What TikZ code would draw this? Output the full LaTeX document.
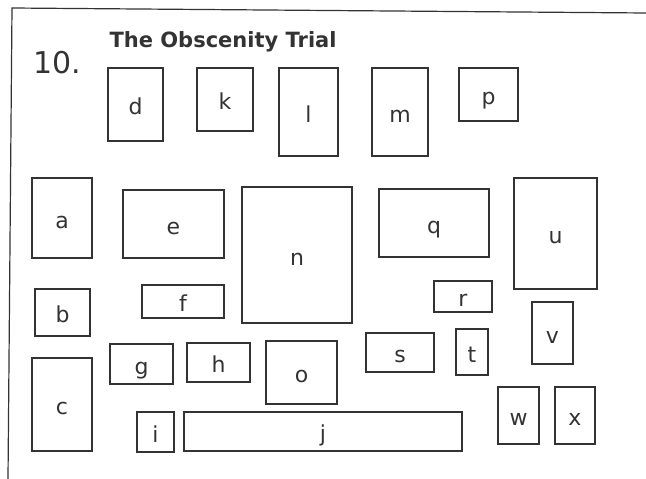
\documentclass[tikz,border=0pt]{standalone}
\usepackage{fontspec}
\setmainfont{DejaVu Sans}
\definecolor{inkgray}{HTML}{333333}

\begin{document}
\begin{tikzpicture}[x=1pt,y=-1pt,line width=1.1pt,
  lot/.style={draw=inkgray,inner sep=0pt,outer sep=0pt,font=\fontsize{22}{22}\selectfont,
    text=inkgray,text height=20pt,text depth=0pt}]
\useasboundingbox (0,0) rectangle (646,479);
% ---------- frame ----------
\draw[inkgray,line width=1.2pt] (646,13) -- (12,8) -- (8,479);
% ---------- heading ----------
\node[anchor=base west,inner sep=0pt,text=inkgray,font=\fontsize{30}{30}\selectfont] (num) at (33,73) {10.};
\node[anchor=base west,inner sep=0pt,text=inkgray,font=\fontsize{21}{21}\bfseries] (title) at (109,47) {The Obscenity Trial};
% ---------- lots: name / left / top / right / bottom ----------
\foreach \nm/\xa/\ya/\xb/\yb in {
  d/108/68/163/141, k/197/68/253/131, l/279/68/338/156, m/372/68/428/156, p/459/68/518/121,
  a/32/178/92/258, e/123/190/224/258, n/242/187/352/323, q/379/189/489/257, u/514/178/597/289,
  b/35/289/90/336, f/142/285/224/318, r/434/281/492/312, v/532/302/573/364,
  g/110/344/173/384, h/187/343/250/382, o/266/341/337/404, s/366/333/434/372, t/456/329/488/375,
  c/32/358/92/451, i/137/412/174/452, j/184/412/462/451, w/498/387/539/444, x/555/387/595/444}{
  \pgfmathsetmacro\bw{\xb-\xa}
  \pgfmathsetmacro\bh{\yb-\ya}
  \node[lot,minimum width=\bw pt,minimum height=\bh pt] (\nm) at ({(\xa+\xb)/2},{(\ya+\yb)/2}) {\nm};
}
\end{tikzpicture}
\end{document}
